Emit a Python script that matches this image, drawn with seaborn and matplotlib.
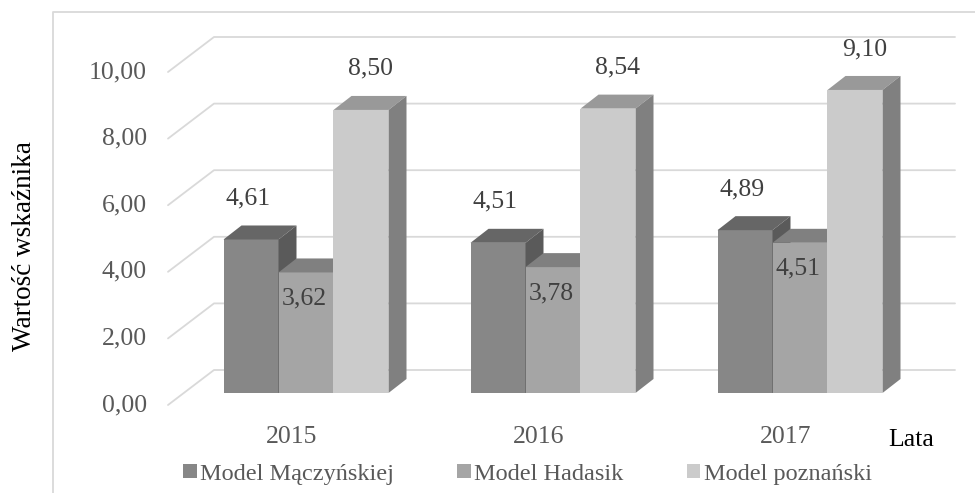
import numpy as np
import pandas as pd
import matplotlib
matplotlib.use("Agg")
import matplotlib.pyplot as plt
from matplotlib.patches import Polygon, Patch
import seaborn as sns

sns.set_theme(style="white")
plt.rcParams['font.family'] = ['Liberation Serif', 'DejaVu Serif']

# data
years = ["2015", "2016", "2017"]
models = ["Model Mączyńskiej", "Model Hadasik", "Model poznański"]
maczynska = [4.61, 4.51, 4.89]
hadasik = [3.62, 3.78, 4.51]
poznanski = [8.50, 8.54, 9.10]
y_ticks = [0, 2, 4, 6, 8, 10]

front_cols = ["#878787", "#a5a5a5", "#cbcbcb"]
top_cols = ["#666666", "#808080", "#999999"]
side_cols = ["#5a5a5a", "#6e6e6e", "#808080"]

df = pd.DataFrame({
    "Rok": years * 3,
    "Model": [m for m in models for _ in years],
    "Wartosc": maczynska + hadasik + poznanski,
})

# pixel -> data helpers (x: 1 category = 247 px, y: 1 unit = 33.3 px)
PXX = 1 / 247
PXY = 1 / 33.3
X0, Y0 = 306, 393


def dx(px):
    return (px - X0) * PXX


def dy(py):
    return (Y0 - py) * PXY


fig = plt.figure(figsize=(9.75, 4.93), dpi=100)
ax = fig.add_axes([0, 0, 1, 1])

sns.barplot(data=df, x="Rok", y="Wartosc", hue="Model", palette=front_cols,
            width=0.668, saturation=1, legend=False, linewidth=0, ax=ax)

# bar depth
ddx, ddy = 18 * PXX, 14 * PXY
lab_dx = [-3 * PXX, -2 * PXX, 10 * PXX]
lab_dy = [41 * PXY, -26 * PXY, 41 * PXY]

for s, cont in enumerate(ax.containers):
    for p in cont.patches:
        z = 3 + s
        p.set_zorder(z)
        x, w, h = p.get_x(), p.get_width(), p.get_height()
        top = Polygon([(x, h), (x + w, h), (x + w + ddx, h + ddy), (x + ddx, h + ddy)],
                      closed=True, facecolor=top_cols[s], edgecolor="none", zorder=z)
        side = Polygon([(x + w, 0), (x + w + ddx, ddy), (x + w + ddx, h + ddy), (x + w, h)],
                       closed=True, facecolor=side_cols[s], edgecolor="none", zorder=z)
        ax.add_patch(top)
        ax.add_patch(side)
        ax.text(x + w / 2 + lab_dx[s], h + lab_dy[s], f"{h:.2f}".replace(".", ","),
                ha="center", va="center", fontsize=18.5, color="#404040", zorder=10)

# gridlines: front slant + back wall
for v in y_ticks:
    yf = v - 12 * PXY
    yb = v + 23 * PXY
    ax.plot([dx(168), dx(214), dx(955)], [yf, yb, yb], color="#d9d9d9", lw=1.3, zorder=1)
    ax.text(dx(147), yf, f"{v:.2f}".replace(".", ","), ha="right", va="center",
            fontsize=18.5, color="#595959")

for i, yr in enumerate(years):
    ax.text(i - 14 * PXX, dy(437), yr, ha="center", va="center", fontsize=18.5, color="#595959")

ax.text(dx(888), dy(440), "Lata", ha="left", va="center", fontsize=18.5, color="black")
ax.text(dx(25), dy(246), "Wartość wskaźnika", ha="center", va="center", rotation=90,
        fontsize=19.5, color="black")

# chart border (left and top)
ax.plot([dx(53), dx(53), dx(980)], [dy(500), dy(12), dy(12)], color="#d9d9d9", lw=1.3, zorder=1)

ax.set_xlim(dx(0), dx(975))
ax.set_ylim(dy(493), dy(0))
ax.set_axis_off()

handles = [Patch(facecolor=c, edgecolor="none") for c in front_cols]
fig.legend(handles, models, loc="center", bbox_to_anchor=(0.541, 0.038), ncol=3,
           frameon=False, fontsize=17.5, labelcolor="#595959", handlelength=0.55,
           handleheight=0.55, handletextpad=0.15, columnspacing=2.6, borderpad=0)

fig.savefig("out.png", dpi=100)
